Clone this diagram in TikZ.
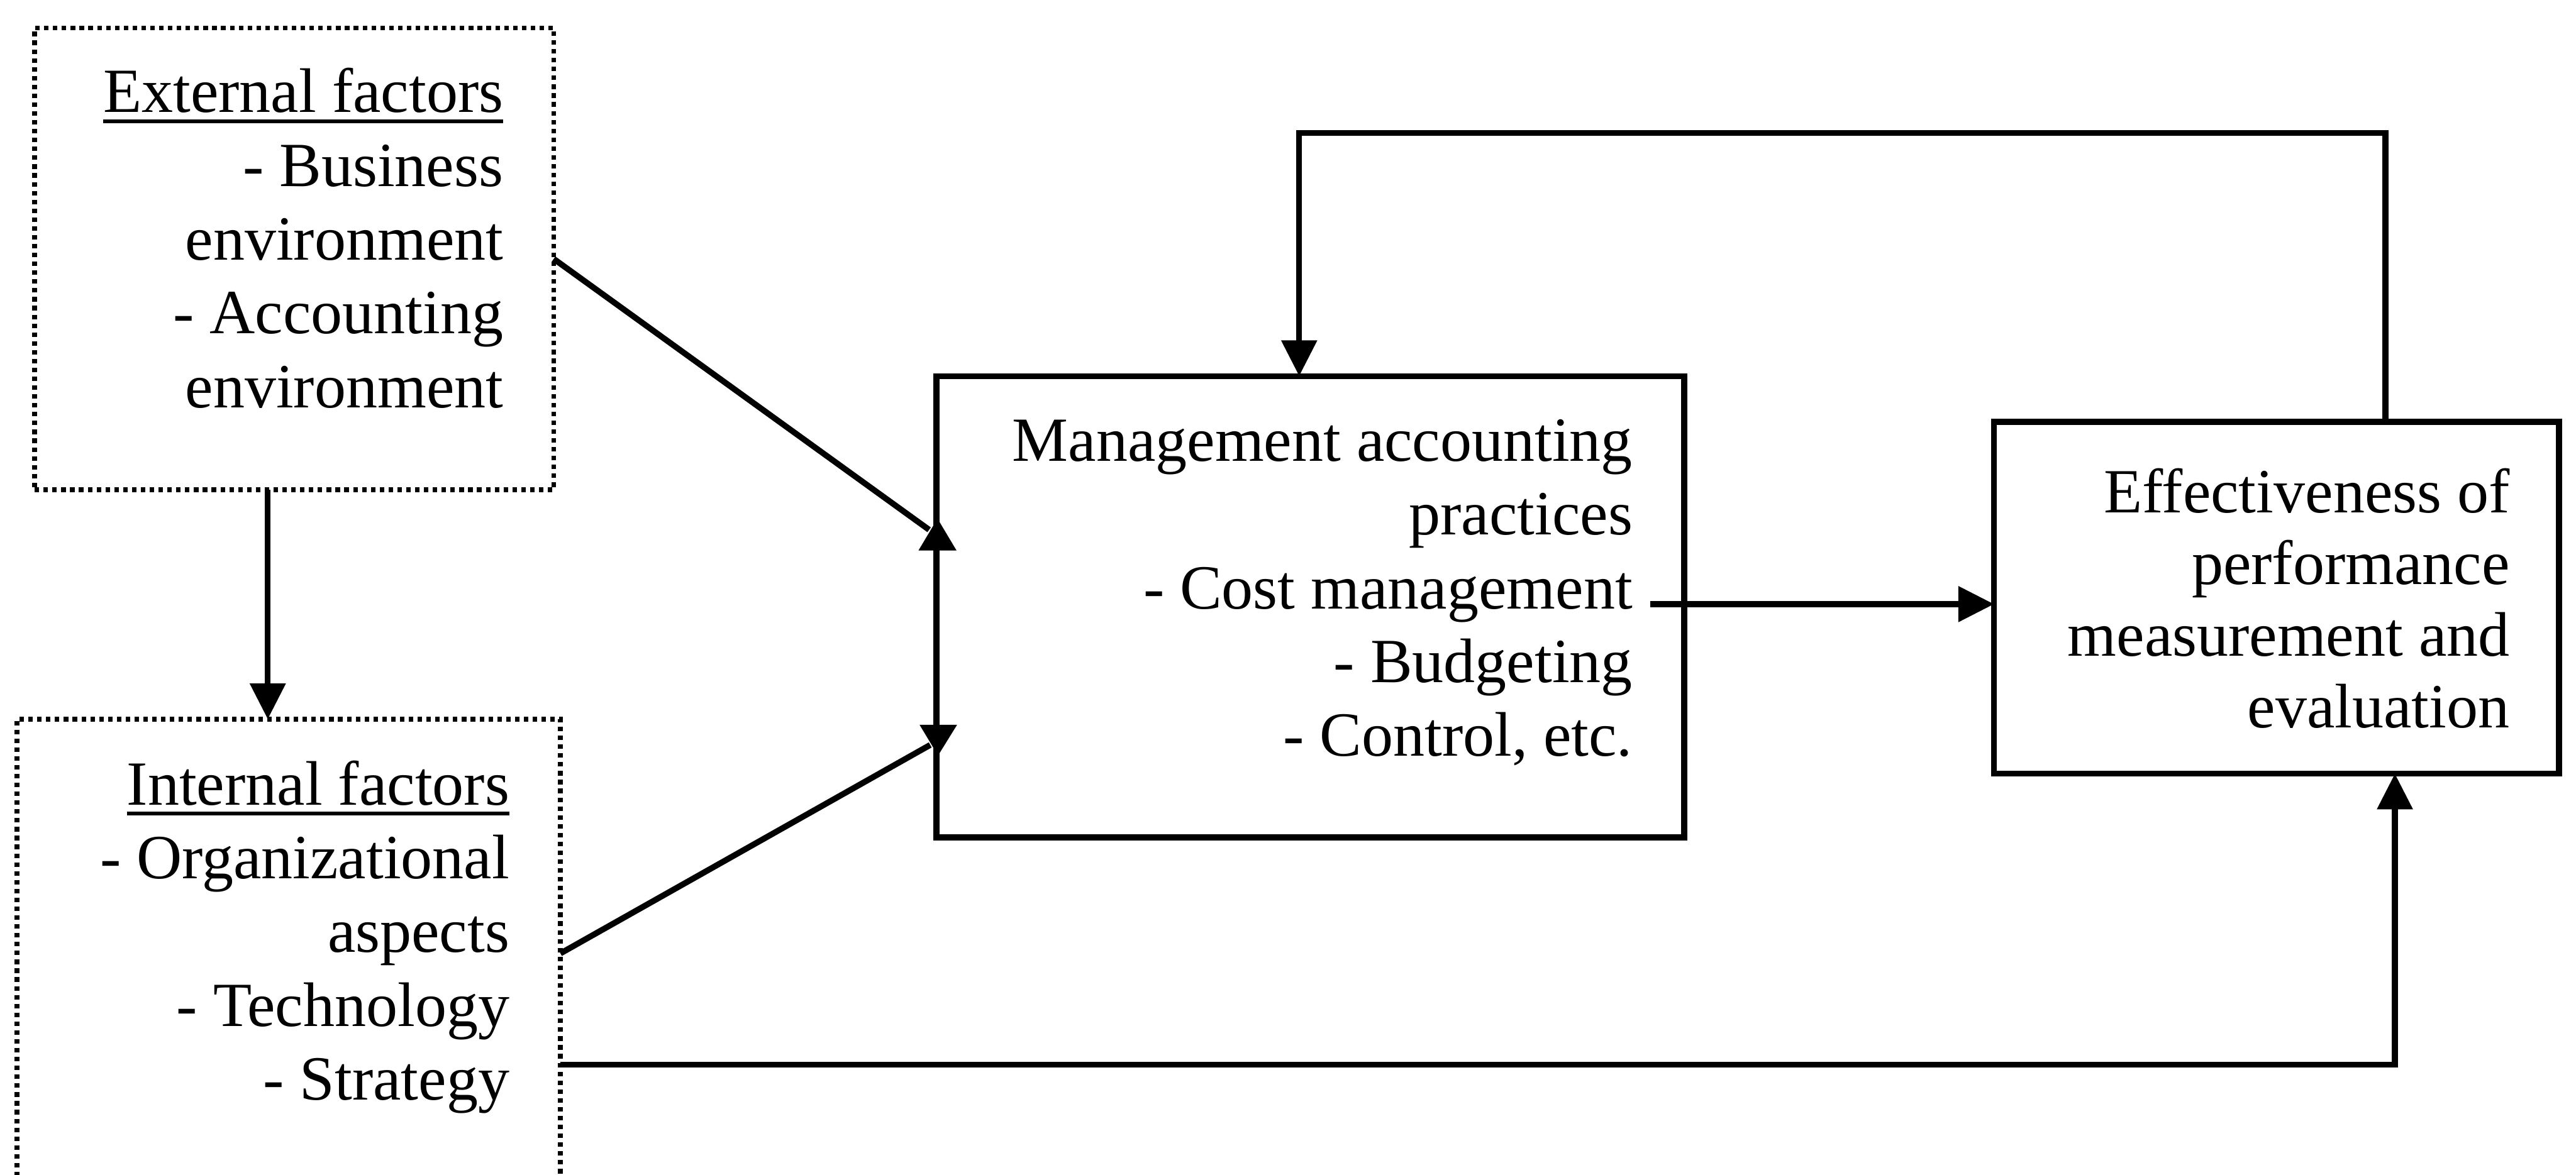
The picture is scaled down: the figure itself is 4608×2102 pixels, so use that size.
\documentclass[tikz,border=0pt]{standalone}
\usepackage{fontspec}
\setmainfont{Liberation Serif}
\usetikzlibrary{arrows.meta,calc}
% underlined heading with a heavier rule
\newcommand\headline[1]{\leavevmode\vtop{\hbox{#1}\kern3.2pt\hrule height 2pt}}

\begin{document}
\begin{tikzpicture}[x=0.01cm,y=-0.01cm,
  solidbox/.style={draw,line width=3pt,inner sep=0pt,outer sep=0pt,anchor=north west},
  dotbox/.style={draw,line width=2.5pt,dash pattern=on 2.3pt off 2.2pt,inner sep=0pt,outer sep=0pt,anchor=north west},
  boxtext/.style={inner sep=0pt,anchor=north east,align=right,font=\fontsize{32pt}{37.55pt}\selectfont},
  conn/.style={line width=3pt},
  arr/.style={conn,-{Triangle[length=0.64cm,width=0.62cm]}}]

\useasboundingbox (0,0) rectangle (4608,2102);
\clip (0,0) rectangle (4608,2102);

% boxes
\node[dotbox,minimum width=9.28cm,minimum height=8.26cm] (ext) at (62,50) {};
\node[dotbox,minimum width=9.72cm,minimum height=9.0cm] (int) at (30,1287) {};
\node[solidbox,minimum width=13.37cm,minimum height=8.25cm] (mgmt) at (1675,673) {};
\node[solidbox,minimum width=10.10cm,minimum height=6.29cm] (eff) at (3567,755) {};

% box texts
\node[boxtext] (extT) at (901,108) {\strut\headline{External factors}\\- Business\\environment\\- Accounting\\environment};
\node[boxtext] (intT) at (912,1347) {\strut\headline{Internal factors}\\- Organizational\\aspects\\- Technology\\- Strategy};
\node[boxtext] (mgmtT) at (2921,732) {\strut Management accounting\\practices\\- Cost management\\- Budgeting\\- Control, etc.};
\node[boxtext,font=\fontsize{32pt}{36.5pt}\selectfont] (effT) at (4490,827) {\strut Effectiveness of\\performance\\measurement and\\evaluation};

% connector ends
\coordinate (inUp) at (1662,948);
\coordinate (inDown) at (1664,1333);
\coordinate (cmEnd) at (2952,1081);
\coordinate (loop) at (2324,238);

% external -> internal
\draw[arr] ($(ext.south west)+(417,0)$) -- ($(int.north west)+(449,0)$);
% factors -> practices
\draw[conn] (ext.east) -- (inUp);
\fill (1643,985) -- (1711,985) -- (1677,928) -- cycle;
\draw[conn] ($(int.north east)+(0,419)$) -- (inDown);
\fill (1645,1297) -- (1712,1297) -- (1678,1352) -- cycle;
% practices -> effectiveness
\draw[arr] (cmEnd) -- (eff.west |- cmEnd);
% internal -> effectiveness
\draw[arr] ($(int.north east)+(0,618)$) -| ($(eff.south west)+(717,0)$);
% feedback loop
\draw[arr] ($(eff.north west)+(700,0)$) |- (loop) -- ($(mgmt.north west)+(649,0)$);
\end{tikzpicture}
\end{document}
